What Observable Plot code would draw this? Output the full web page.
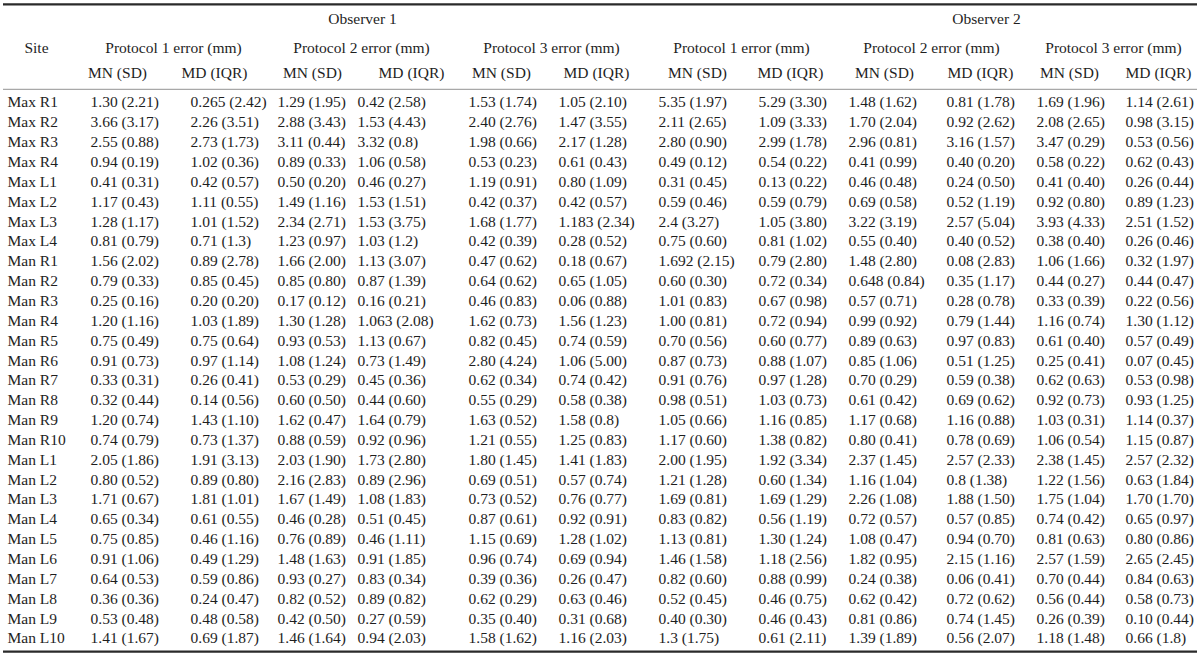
<!DOCTYPE html>
<html>
<head>
<meta charset="utf-8">
<script src="https://cdn.jsdelivr.net/npm/d3@7"></script>
<script src="https://cdn.jsdelivr.net/npm/@observablehq/plot@0.6"></script>
<style>
  html, body { margin: 0; padding: 0; background: #fff; }
  #chart svg { display: block; }
</style>
</head>
<body>
<div id="chart"></div>
<script>
// ---------- DATA ----------
const sites = ["Max R1","Max R2","Max R3","Max R4","Max L1","Max L2","Max L3","Max L4",
  "Man R1","Man R2","Man R3","Man R4","Man R5","Man R6","Man R7","Man R8","Man R9","Man R10",
  "Man L1","Man L2","Man L3","Man L4","Man L5","Man L6","Man L7","Man L8","Man L9","Man L10"];

const observers = ["Observer 1", "Observer 2"];
const protocols = ["Protocol 1 error (mm)", "Protocol 2 error (mm)", "Protocol 3 error (mm)"];
const stats = ["MN (SD)", "MD (IQR)"];
const siteHeader = "Site";

const obs1P1MN = ["1.30 (2.21)","3.66 (3.17)","2.55 (0.88)","0.94 (0.19)","0.41 (0.31)","1.17 (0.43)","1.28 (1.17)","0.81 (0.79)","1.56 (2.02)","0.79 (0.33)","0.25 (0.16)","1.20 (1.16)","0.75 (0.49)","0.91 (0.73)","0.33 (0.31)","0.32 (0.44)","1.20 (0.74)","0.74 (0.79)","2.05 (1.86)","0.80 (0.52)","1.71 (0.67)","0.65 (0.34)","0.75 (0.85)","0.91 (1.06)","0.64 (0.53)","0.36 (0.36)","0.53 (0.48)","1.41 (1.67)"];
const obs1P1MD = ["0.265 (2.42)","2.26 (3.51)","2.73 (1.73)","1.02 (0.36)","0.42 (0.57)","1.11 (0.55)","1.01 (1.52)","0.71 (1.3)","0.89 (2.78)","0.85 (0.45)","0.20 (0.20)","1.03 (1.89)","0.75 (0.64)","0.97 (1.14)","0.26 (0.41)","0.14 (0.56)","1.43 (1.10)","0.73 (1.37)","1.91 (3.13)","0.89 (0.80)","1.81 (1.01)","0.61 (0.55)","0.46 (1.16)","0.49 (1.29)","0.59 (0.86)","0.24 (0.47)","0.48 (0.58)","0.69 (1.87)"];
const obs1P2MN = ["1.29 (1.95)","2.88 (3.43)","3.11 (0.44)","0.89 (0.33)","0.50 (0.20)","1.49 (1.16)","2.34 (2.71)","1.23 (0.97)","1.66 (2.00)","0.85 (0.80)","0.17 (0.12)","1.30 (1.28)","0.93 (0.53)","1.08 (1.24)","0.53 (0.29)","0.60 (0.50)","1.62 (0.47)","0.88 (0.59)","2.03 (1.90)","2.16 (2.83)","1.67 (1.49)","0.46 (0.28)","0.76 (0.89)","1.48 (1.63)","0.93 (0.27)","0.82 (0.52)","0.42 (0.50)","1.46 (1.64)"];
const obs1P2MD = ["0.42 (2.58)","1.53 (4.43)","3.32 (0.8)","1.06 (0.58)","0.46 (0.27)","1.53 (1.51)","1.53 (3.75)","1.03 (1.2)","1.13 (3.07)","0.87 (1.39)","0.16 (0.21)","1.063 (2.08)","1.13 (0.67)","0.73 (1.49)","0.45 (0.36)","0.44 (0.60)","1.64 (0.79)","0.92 (0.96)","1.73 (2.80)","0.89 (2.96)","1.08 (1.83)","0.51 (0.45)","0.46 (1.11)","0.91 (1.85)","0.83 (0.34)","0.89 (0.82)","0.27 (0.59)","0.94 (2.03)"];
const obs1P3MN = ["1.53 (1.74)","2.40 (2.76)","1.98 (0.66)","0.53 (0.23)","1.19 (0.91)","0.42 (0.37)","1.68 (1.77)","0.42 (0.39)","0.47 (0.62)","0.64 (0.62)","0.46 (0.83)","1.62 (0.73)","0.82 (0.45)","2.80 (4.24)","0.62 (0.34)","0.55 (0.29)","1.63 (0.52)","1.21 (0.55)","1.80 (1.45)","0.69 (0.51)","0.73 (0.52)","0.87 (0.61)","1.15 (0.69)","0.96 (0.74)","0.39 (0.36)","0.62 (0.29)","0.35 (0.40)","1.58 (1.62)"];
const obs1P3MD = ["1.05 (2.10)","1.47 (3.55)","2.17 (1.28)","0.61 (0.43)","0.80 (1.09)","0.42 (0.57)","1.183 (2.34)","0.28 (0.52)","0.18 (0.67)","0.65 (1.05)","0.06 (0.88)","1.56 (1.23)","0.74 (0.59)","1.06 (5.00)","0.74 (0.42)","0.58 (0.38)","1.58 (0.8)","1.25 (0.83)","1.41 (1.83)","0.57 (0.74)","0.76 (0.77)","0.92 (0.91)","1.28 (1.02)","0.69 (0.94)","0.26 (0.47)","0.63 (0.46)","0.31 (0.68)","1.16 (2.03)"];
const obs2P1MN = ["5.35 (1.97)","2.11 (2.65)","2.80 (0.90)","0.49 (0.12)","0.31 (0.45)","0.59 (0.46)","2.4 (3.27)","0.75 (0.60)","1.692 (2.15)","0.60 (0.30)","1.01 (0.83)","1.00 (0.81)","0.70 (0.56)","0.87 (0.73)","0.91 (0.76)","0.98 (0.51)","1.05 (0.66)","1.17 (0.60)","2.00 (1.95)","1.21 (1.28)","1.69 (0.81)","0.83 (0.82)","1.13 (0.81)","1.46 (1.58)","0.82 (0.60)","0.52 (0.45)","0.40 (0.30)","1.3 (1.75)"];
const obs2P1MD = ["5.29 (3.30)","1.09 (3.33)","2.99 (1.78)","0.54 (0.22)","0.13 (0.22)","0.59 (0.79)","1.05 (3.80)","0.81 (1.02)","0.79 (2.80)","0.72 (0.34)","0.67 (0.98)","0.72 (0.94)","0.60 (0.77)","0.88 (1.07)","0.97 (1.28)","1.03 (0.73)","1.16 (0.85)","1.38 (0.82)","1.92 (3.34)","0.60 (1.34)","1.69 (1.29)","0.56 (1.19)","1.30 (1.24)","1.18 (2.56)","0.88 (0.99)","0.46 (0.75)","0.46 (0.43)","0.61 (2.11)"];
const obs2P2MN = ["1.48 (1.62)","1.70 (2.04)","2.96 (0.81)","0.41 (0.99)","0.46 (0.48)","0.69 (0.58)","3.22 (3.19)","0.55 (0.40)","1.48 (2.80)","0.648 (0.84)","0.57 (0.71)","0.99 (0.92)","0.89 (0.63)","0.85 (1.06)","0.70 (0.29)","0.61 (0.42)","1.17 (0.68)","0.80 (0.41)","2.37 (1.45)","1.16 (1.04)","2.26 (1.08)","0.72 (0.57)","1.08 (0.47)","1.82 (0.95)","0.24 (0.38)","0.62 (0.42)","0.81 (0.86)","1.39 (1.89)"];
const obs2P2MD = ["0.81 (1.78)","0.92 (2.62)","3.16 (1.57)","0.40 (0.20)","0.24 (0.50)","0.52 (1.19)","2.57 (5.04)","0.40 (0.52)","0.08 (2.83)","0.35 (1.17)","0.28 (0.78)","0.79 (1.44)","0.97 (0.83)","0.51 (1.25)","0.59 (0.38)","0.69 (0.62)","1.16 (0.88)","0.78 (0.69)","2.57 (2.33)","0.8 (1.38)","1.88 (1.50)","0.57 (0.85)","0.94 (0.70)","2.15 (1.16)","0.06 (0.41)","0.72 (0.62)","0.74 (1.45)","0.56 (2.07)"];
const obs2P3MN = ["1.69 (1.96)","2.08 (2.65)","3.47 (0.29)","0.58 (0.22)","0.41 (0.40)","0.92 (0.80)","3.93 (4.33)","0.38 (0.40)","1.06 (1.66)","0.44 (0.27)","0.33 (0.39)","1.16 (0.74)","0.61 (0.40)","0.25 (0.41)","0.62 (0.63)","0.92 (0.73)","1.03 (0.31)","1.06 (0.54)","2.38 (1.45)","1.22 (1.56)","1.75 (1.04)","0.74 (0.42)","0.81 (0.63)","2.57 (1.59)","0.70 (0.44)","0.56 (0.44)","0.26 (0.39)","1.18 (1.48)"];
const obs2P3MD = ["1.14 (2.61)","0.98 (3.15)","0.53 (0.56)","0.62 (0.43)","0.26 (0.44)","0.89 (1.23)","2.51 (1.52)","0.26 (0.46)","0.32 (1.97)","0.44 (0.47)","0.22 (0.56)","1.30 (1.12)","0.57 (0.49)","0.07 (0.45)","0.53 (0.98)","0.93 (1.25)","1.14 (0.37)","1.15 (0.87)","2.57 (2.32)","0.63 (1.84)","1.70 (1.70)","0.65 (0.97)","0.80 (0.86)","2.65 (2.45)","0.84 (0.63)","0.58 (0.73)","0.10 (0.44)","0.66 (1.8)"];

const valueColumns = [obs1P1MN, obs1P1MD, obs1P2MN, obs1P2MD, obs1P3MN, obs1P3MD,
                      obs2P1MN, obs2P1MD, obs2P2MN, obs2P2MD, obs2P3MN, obs2P3MD];

// ---------- LAYOUT (column geometry in x-scale units, row geometry in row units) ----------
const colLeft = [90, 190, 277, 357, 468, 558, 658, 758, 848, 946, 1036, 1125];
const statCenter = [117, 214, 312, 411, 501, 596, 697, 790, 884, 980, 1069, 1158];
const protoCenter = [173, 361, 551, 741, 931, 1113];
const obsCenter = [362, 986];
const siteLeft = 7, siteHeaderCenter = 36;
const rowObs = -4.23, rowProto = -2.72, rowStat = -1.46;
const lineTop = -4.94, lineHead = -0.66, lineBottom = 27.66;
const lineX1 = 3, lineX2 = 1197;

// ---------- BUILD TABLE ----------
const cells = valueColumns.flatMap((col, c) => col.map((text, r) => ({c, r, text})));
const statCells = valueColumns.map((_, c) => ({c, text: stats[c % 2]}));
const protoCells = protoCenter.map((_, i) => ({i, text: protocols[i % 3]}));
const obsCells = observers.map((text, i) => ({i, text}));

const font = {fontFamily: "'Liberation Serif', 'Times New Roman', serif", fontSize: 15.5, fill: "#1e1e1e"};

const rowPx = 19.85, firstRowPx = 102;
const chart = Plot.plot({
  width: 1200,
  height: 654,
  margin: 0,
  style: {background: "#fff"},
  x: {domain: [0, 1200], range: [0, 1200], axis: null},
  y: {domain: [-firstRowPx / rowPx, (654 - firstRowPx) / rowPx], range: [0, 654], axis: null},
  marks: [
    Plot.ruleY([lineTop], {x1: lineX1, x2: lineX2, stroke: "#2a2a2a", strokeWidth: 2.2}),
    Plot.ruleY([lineHead], {x1: lineX1, x2: lineX2, stroke: "#a8a8a8", strokeWidth: 1.2}),
    Plot.ruleY([lineBottom], {x1: lineX1, x2: lineX2, stroke: "#2a2a2a", strokeWidth: 2.2}),
    Plot.text(obsCells, {x: d => obsCenter[d.i], y: () => rowObs, text: "text", textAnchor: "middle", ...font}),
    Plot.text([siteHeader], {x: () => siteHeaderCenter, y: () => rowProto, text: d => d, textAnchor: "middle", ...font}),
    Plot.text(protoCells, {x: d => protoCenter[d.i], y: () => rowProto, text: "text", textAnchor: "middle", ...font}),
    Plot.text(statCells, {x: d => statCenter[d.c], y: () => rowStat, text: "text", textAnchor: "middle", ...font}),
    Plot.text(sites, {x: () => siteLeft, y: (d, i) => i, text: d => d, textAnchor: "start", ...font}),
    Plot.text(cells, {x: d => colLeft[d.c], y: "r", text: "text", textAnchor: "start", ...font})
  ]
});
document.getElementById("chart").appendChild(chart);
</script>
</body>
</html>
